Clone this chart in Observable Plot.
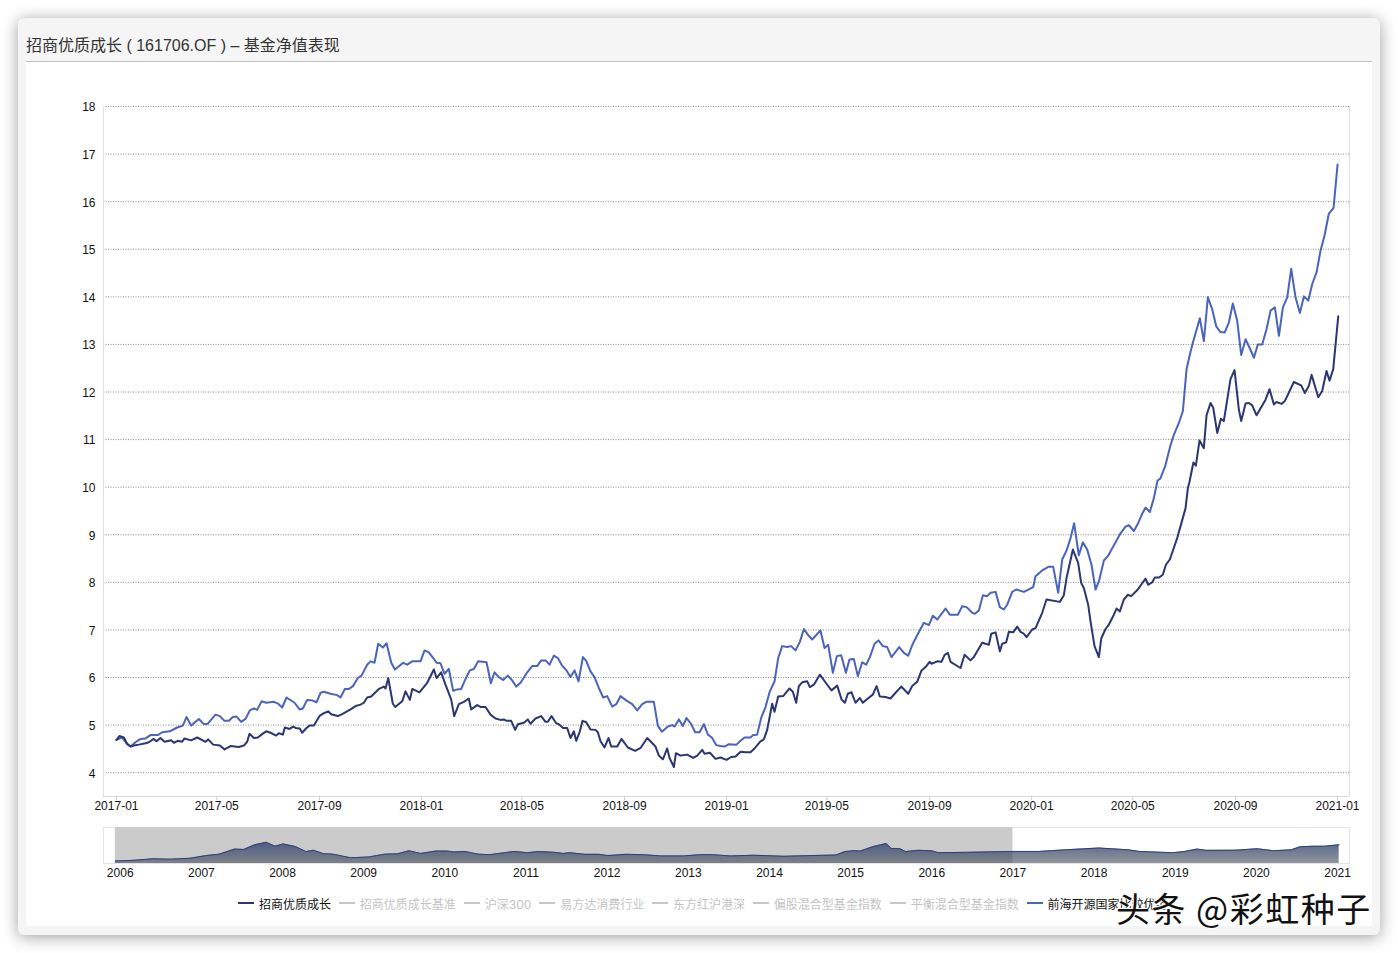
<!DOCTYPE html>
<html lang="zh">
<head>
<meta charset="utf-8">
<script src="https://cdn.jsdelivr.net/npm/d3@7"></script>
<script src="https://cdn.jsdelivr.net/npm/@observablehq/plot@0.6"></script>
<style>
html,body{margin:0;padding:0;background:#fff;width:1398px;height:953px;overflow:hidden;font-family:"Liberation Sans","Noto Sans CJK SC",sans-serif}
#card{position:absolute;left:18px;top:18px;width:1362px;height:917px;background:#f5f5f5;border-radius:6px;box-shadow:0 2px 16px rgba(0,0,0,.38)}
#inner{position:absolute;left:26px;top:62px;width:1346px;height:864px;background:#fff}
#rule{position:absolute;left:26px;top:61px;width:1346px;height:1px;background:#c4c4c4}
#title{position:absolute;left:26px;top:35px;font-size:16px;line-height:22px;color:#333;white-space:pre}
#main,#mini{position:absolute;left:0}
#main{top:0}#mini{top:820px}
#legend{position:absolute;left:238px;top:894px;height:18px;display:flex;align-items:center;font-size:12px;white-space:nowrap;font-family:"Inter","Noto Sans CJK SC",sans-serif}
.item{display:flex;align-items:center;margin-right:7.85px}
.item i{display:block;width:16px;height:2px;margin-right:5px}
#mark{position:absolute;left:1116px;top:885px;font-size:34px;line-height:46px;letter-spacing:1.5px;color:#111;white-space:nowrap;text-shadow:0 0 2px #fff,1px 1px 0 #fff,-1px -1px 0 #fff;font-family:"Noto Sans CJK SC",sans-serif}
svg text{font-family:"Liberation Sans","Noto Sans CJK SC",sans-serif}
</style>
</head>
<body>
<div id="card"></div><div id="inner"></div><div id="rule"></div>
<div id="title">招商优质成长 ( 161706.OF ) – 基金净值表现</div>
<div id="main"></div><div id="mini"></div>
<div id="legend"></div>
<div id="mark">头条 @彩虹种子</div>
<script>
const titleText = "招商优质成长 ( 161706.OF ) – 基金净值表现";
const seriesNames = ["招商优质成长","招商优质成长基准","沪深300","易方达消费行业","东方红沪港深","偏股混合型基金指数","平衡混合型基金指数","前海开源国家比较优势"];
const seriesActive = [true,false,false,false,false,false,false,true];
const navy = "#2b3672", blue = "#4a63bd";
const tickMonths = ["2017-01","2017-05","2017-09","2018-01","2018-05","2018-09","2019-01","2019-05","2019-09","2020-01","2020-05","2020-09","2021-01"];
const yTicks = [4,5,6,7,8,9,10,11,12,13,14,15,16,17,18];
const overviewTicks = [2006,2007,2008,2009,2010,2011,2012,2013,2014,2015,2016,2017,2018,2019,2020,2021];

// days since 2017-01-01
const fundDays = [0,3.6,8.8,12.8,16.8,20.8,26.8,34.8,38.7,44.7,47.9,52.7,57.5,65.5,68.7,73.4,78.6,81.4,89.4,96.6,106.6,109.7,115.7,123.7,129.3,136.5,146.4,152.4,156.4,159.2,164.4,169.2,174.3,179.2,184.3,191.1,194.3,199.1,201.5,207.1,211.5,214.3,219.4,222.2,227.4,231,236.2,243.4,248.2,253.3,256.9,264.9,270.1,280.1,286.1,292.1,296,300,304.8,314,320,322,325.2,330.7,333.5,341.9,345.9,351.1,353.9,362.6,371.8,379.8,383,388.5,393.7,400.5,404.1,409.7,415.7,421.6,424.4,431.6,436.4,441.6,447.6,453.6,459.5,463.5,466.7,472.3,477.1,480.3,487.5,492.2,495.4,501.4,508.2,513.4,516.2,520.6,526.2,529.3,534.5,539.3,543.3,547.3,550.1,554.5,557.7,562.1,567.2,573.2,576,579.2,584,588.8,592,599.2,604.3,611.9,620.7,627.1,635.1,645,649,653.8,659,661.8,667,669.4,675,682.9,690.1,694.9,700.9,703.7,710.1,716.8,722.8,730,735.6,740.8,746.8,752.7,758.7,764,770.6,774.6,778.6,784.6,787.4,791.8,797.8,805.3,809.3,813.3,816.5,820.5,826.5,829.7,834.5,841.6,849.6,855.6,862.4,867.6,871.6,875.1,879.5,884.3,889.5,893.1,898.3,905,909.5,913.4,920.2,926.2,932.2,939,947.4,952.1,958.1,963.3,968.1,972.9,975.3,982.1,987.2,990.8,994.8,998,1010,1014.8,1021.9,1025.9,1035.9,1043.9,1046.7,1051.9,1057,1059.8,1064.6,1067.8,1073,1077.8,1081.8,1085.8,1089,1095.7,1099.7,1107.7,1112.8,1128.8,1133.6,1136.8,1144.4,1150.7,1154.3,1157.5,1162.7,1165.5,1170.3,1175.5,1178.3,1183.5,1187.4,1193.4,1196.6,1200.6,1205.4,1210.2,1214.2,1222.1,1231.3,1234.5,1239.3,1242.5,1247.3,1252,1255.7,1260.4,1269.2,1279.2,1282,1284,1288.6,1291.5,1295.9,1301.1,1304.3,1309.1,1312.3,1317.1,1321.5,1325,1333,1337.8,1343,1345.8,1351,1355,1359,1364.2,1374.9,1379.7,1384.9,1388.1,1394,1398,1408.8,1417.6,1422,1426.8,1430,1438,1442.7,1447.9,1451.5,1455.9,1461.9];
const fundNav = [4.69,4.77,4.74,4.61,4.55,4.57,4.59,4.62,4.64,4.71,4.66,4.73,4.65,4.68,4.63,4.67,4.65,4.72,4.68,4.74,4.65,4.70,4.59,4.57,4.49,4.56,4.54,4.57,4.65,4.82,4.73,4.74,4.81,4.87,4.84,4.78,4.83,4.80,4.95,4.92,4.97,4.94,4.93,4.84,4.94,4.99,4.99,5.20,5.25,5.29,5.23,5.19,5.23,5.33,5.40,5.43,5.47,5.58,5.60,5.76,5.81,5.77,5.99,5.45,5.38,5.50,5.71,5.53,5.76,5.69,5.89,6.17,5.99,6.11,5.85,5.54,5.19,5.44,5.49,5.56,5.33,5.42,5.38,5.38,5.22,5.14,5.11,5.12,5.09,5.09,4.90,5.02,5.05,5.12,5.03,5.14,5.19,5.07,5.07,5.19,5.04,5.02,4.94,4.94,4.73,4.87,4.67,4.87,5.09,5.06,4.91,4.90,4.85,4.66,4.53,4.73,4.55,4.55,4.71,4.53,4.46,4.52,4.73,4.55,4.36,4.28,4.51,4.31,4.12,4.41,4.36,4.38,4.31,4.36,4.48,4.40,4.42,4.29,4.32,4.27,4.33,4.34,4.44,4.43,4.43,4.52,4.66,4.70,4.90,5.45,5.28,5.60,5.61,5.77,5.70,5.47,5.82,5.90,5.92,5.80,5.85,6.06,5.87,5.73,5.83,5.54,5.47,5.66,5.69,5.47,5.57,5.47,5.55,5.64,5.82,5.60,5.59,5.56,5.68,5.81,5.66,5.82,5.91,6.15,6.22,6.33,6.29,6.34,6.33,6.47,6.52,6.33,6.20,6.48,6.36,6.43,6.73,6.69,6.92,6.95,6.55,6.71,6.74,6.96,6.95,7.07,6.96,6.92,6.85,7.01,7.04,7.36,7.64,7.59,7.73,8.09,8.69,8.41,7.99,7.88,7.53,7.18,6.66,6.43,6.82,7.02,7.11,7.32,7.45,7.39,7.64,7.74,7.71,7.85,8.08,7.95,8.00,8.10,8.10,8.16,8.37,8.48,8.93,9.56,9.98,10.12,10.52,10.45,10.98,10.82,11.51,11.77,11.67,11.14,11.44,11.39,12.27,12.46,11.63,11.39,11.76,11.77,11.72,11.51,11.84,12.06,11.74,11.79,11.75,11.81,12.21,12.14,11.98,12.13,12.36,11.89,12.02,12.44,12.24,12.48,13.59];

const peerDays = [0,6.8,12.8,16.8,22.8,28.8,34.8,40.7,49.5,54.7,63.9,72.6,79.4,83.8,89.4,98.6,104.6,109.3,118.5,123.7,129.3,134.5,139.3,143.7,149.2,154.4,159.6,164.4,168.4,173.6,179.2,188.3,193.5,198.3,203.5,213.1,219.1,223,228.2,234.2,239.4,244.2,248.2,256.1,264.1,268.1,273.3,278.1,282.9,288.9,293.2,300,304,308.8,313.2,318.8,323.2,328.8,333.2,343.1,347.9,353.9,363.8,368.6,373.8,378.6,383,387.7,392.5,397.7,402.9,407.7,412.5,417.7,422.8,427.6,432.8,442.8,448,452.4,457.5,462.7,468.3,473.5,478.3,483.5,491.5,497.4,503.4,508.2,513.4,518.2,523.4,528.2,533.3,538.5,543.3,548.1,552.9,558.1,562.1,567.2,572,577.2,582.4,587.2,593.2,598,603.1,609.1,617.1,623.1,629.1,633.9,643,647.8,652.6,659.8,665,667.8,673,677.7,682.1,687.7,692.5,697.7,702.9,707.7,712.4,717.6,722.8,727.6,732.8,741.9,746.7,751.5,758.7,761.9,766.6,771.4,776.6,781.8,787.4,791.8,796.6,802.5,807.3,812.5,817.7,822.5,827.7,832.5,842.4,847.2,851.6,857.2,862,867.2,872.8,877.1,882.3,887.1,892.3,897.1,901.5,907.1,911.8,917,922.2,927.4,936.6,942.2,947.4,952.9,958.1,966.1,972.1,976.9,982.1,992,997.2,1006.8,1012,1017.2,1024,1027.1,1031.9,1036.7,1041.9,1045.9,1051.9,1057,1061.8,1065.8,1071.8,1076.6,1085.8,1096.9,1099.7,1107.7,1115.6,1120.8,1126.8,1131.6,1136.8,1141.6,1145.9,1151.5,1156.3,1161.5,1166.7,1171.5,1175.5,1181.5,1186.2,1201.4,1207.4,1211.4,1217.4,1222.1,1227.3,1231.3,1236.5,1241.3,1245.7,1249,1255,1261,1265.2,1271.2,1276,1280.4,1284.4,1288,1296.3,1301.1,1305.9,1311.1,1315.9,1321,1325.9,1331,1335.8,1341,1345.8,1351,1355.8,1361,1365.7,1370.9,1376.1,1380.9,1386.1,1390.9,1395.7,1400.9,1405.6,1410.8,1416,1420.8,1426,1430.8,1436,1440.7,1445.5,1450.7,1456.3,1461.1];
const peerNav = [4.69,4.74,4.60,4.55,4.64,4.71,4.72,4.79,4.79,4.85,4.87,4.95,4.99,5.17,4.99,5.13,5.02,5.03,5.22,5.19,5.09,5.09,5.17,5.18,5.07,5.13,5.31,5.35,5.32,5.50,5.47,5.49,5.45,5.37,5.58,5.47,5.33,5.35,5.53,5.52,5.48,5.68,5.70,5.66,5.63,5.58,5.76,5.76,5.82,5.99,6.04,6.27,6.34,6.31,6.71,6.63,6.72,6.31,6.17,6.31,6.27,6.34,6.34,6.57,6.53,6.42,6.31,6.30,6.08,6.18,5.72,5.75,5.76,5.97,6.15,6.18,6.34,6.32,5.88,6.11,6.01,5.95,6.04,5.94,5.81,5.89,6.11,6.24,6.24,6.36,6.36,6.27,6.46,6.41,6.25,6.15,6.01,6.15,5.92,6.43,6.35,6.13,6.01,5.78,5.58,5.61,5.39,5.44,5.61,5.53,5.44,5.31,5.44,5.49,5.49,4.99,4.86,4.97,5.00,4.97,5.12,4.98,5.15,5.02,4.85,4.85,5.02,4.80,4.74,4.58,4.56,4.55,4.60,4.59,4.67,4.74,4.74,4.79,4.80,5.15,5.38,5.71,5.92,6.41,6.66,6.64,6.66,6.57,6.75,7.02,6.89,6.80,6.99,6.62,6.69,6.10,6.45,6.47,6.10,6.38,6.39,6.03,6.32,6.27,6.43,6.71,6.78,6.66,6.64,6.43,6.64,6.52,6.46,6.71,6.89,7.15,7.10,7.30,7.22,7.45,7.32,7.32,7.50,7.48,7.36,7.34,7.41,7.73,7.71,7.78,7.80,7.48,7.43,7.53,7.80,7.85,7.80,7.90,8.13,8.25,8.33,8.33,7.78,8.48,8.67,8.93,9.24,8.57,8.84,8.69,8.37,7.85,8.02,8.46,8.55,9.03,9.17,9.20,9.08,9.23,9.44,9.57,9.48,9.77,10.14,10.18,10.45,10.87,11.10,11.35,11.60,12.48,12.79,13.04,13.55,13.07,13.99,13.74,13.38,13.26,13.25,13.46,13.86,13.50,12.78,13.11,12.93,12.72,13.00,13.00,13.32,13.71,13.78,13.18,13.78,13.99,14.59,13.99,13.66,14.01,13.92,14.27,14.52,14.97,15.29,15.75,15.87,16.78];

// overview strip: decimal year and relative height
const overviewYears = [2005.94,2006.18,2006.40,2006.62,2006.86,2007.06,2007.22,2007.41,2007.52,2007.66,2007.80,2007.91,2008.01,2008.16,2008.29,2008.38,2008.51,2008.62,2008.84,2009.06,2009.26,2009.42,2009.56,2009.70,2009.89,2010.03,2010.11,2010.25,2010.41,2010.55,2010.85,2011.02,2011.15,2011.35,2011.46,2011.54,2011.73,2011.90,2012.01,2012.23,2012.45,2012.67,2012.94,2013.14,2013.30,2013.52,2013.80,2014.18,2014.51,2014.82,2014.93,2015.04,2015.12,2015.28,2015.44,2015.50,2015.61,2015.68,2015.83,2016.0,2016.08,2016.44,2016.99,2017.32,2017.65,2018.06,2018.42,2018.56,2018.97,2019.11,2019.27,2019.38,2019.74,2020.01,2020.21,2020.43,2020.54,2020.70,2020.84,2021.02];
const overviewLevels = [.07,.09,.13,.12,.145,.22,.26,.40,.39,.52,.59,.48,.545,.47,.33,.37,.27,.26,.16,.18,.26,.27,.355,.28,.345,.345,.32,.335,.26,.245,.335,.30,.33,.31,.28,.30,.255,.255,.22,.255,.245,.21,.21,.245,.245,.21,.23,.20,.22,.235,.33,.355,.345,.47,.555,.42,.41,.33,.365,.355,.30,.31,.335,.335,.38,.43,.38,.335,.30,.33,.40,.365,.37,.41,.355,.38,.465,.48,.48,.52];
const windowYears = [2005.94, 2017];

const base = Date.UTC(2017,0,1);
const toRows = (days, nav) => days.map((d,i)=>({date:new Date(base+d*864e5), nav:nav[i]}));
const monthDate = m => new Date(m+"-01T00:00:00Z");

const main = Plot.plot({
  width:1398, height:822,
  marginLeft:103, marginRight:49, marginTop:106, marginBottom:26,
  style:{background:"transparent",fontSize:"12px",color:"#222",overflow:"visible"},
  x:{type:"utc", domain:[new Date("2016-12-16T12:00:00Z"), new Date("2021-01-15T09:00:00Z")]},
  y:{domain:[3.5,18]},
  marks:[
    Plot.gridY(yTicks,{stroke:"#8a8a8a",strokeOpacity:1,strokeDasharray:"1 1.5"}),
    Plot.ruleX([new Date("2016-12-16T12:00:00Z"), new Date("2021-01-15T09:00:00Z")],{stroke:"#e0e0e0"}),
    Plot.ruleY([3.5],{stroke:"#dcdcdc"}),
    Plot.axisY({ticks:yTicks,tickSize:0,tickPadding:8,label:null,fill:"#111",dy:1}),
    Plot.axisX({ticks:tickMonths.map(monthDate),tickFormat:d3.utcFormat("%Y-%m"),tickSize:4,tickPadding:1,stroke:"#ccc",fill:"#111",label:null}),
    Plot.line(toRows(peerDays,peerNav),{x:"date",y:"nav",stroke:blue,strokeWidth:2,curve:"linear"}),
    Plot.line(toRows(fundDays,fundNav),{x:"date",y:"nav",stroke:navy,strokeWidth:2,curve:"linear"})
  ]
});
document.getElementById("main").append(main);

const overviewRows = overviewYears.map((y,i)=>({year:y,level:overviewLevels[i]}));
const gradientDefs = () => {
  const defs = d3.create("svg:defs");
  const g = defs.append("linearGradient").attr("id","ovFill").attr("x1",0).attr("x2",0).attr("y1",0).attr("y2",1);
  g.append("stop").attr("offset","0%").attr("stop-color","#2b4578").attr("stop-opacity",.82);
  g.append("stop").attr("offset","100%").attr("stop-color","#4a4f58").attr("stop-opacity",.6);
  return defs.node();
};
const mini = Plot.plot({
  width:1398, height:70,
  marginLeft:103, marginRight:49, marginTop:7, marginBottom:27,
  style:{background:"transparent",fontSize:"12px",color:"#222",overflow:"visible"},
  x:{domain:[2005.794,2021.147]},
  y:{domain:[0,1],axis:null},
  marks:[
    gradientDefs,
    Plot.frame({stroke:"#e4e4e4"}),
    Plot.rectY([{x1:windowYears[0],x2:windowYears[1]}],{x1:"x1",x2:"x2",y1:0,y2:1,fill:"#cbcbcb"}),
    Plot.areaY(overviewRows,{x:"year",y:"level",fill:"url(#ovFill)",curve:"linear"}),
    Plot.line(overviewRows,{x:"year",y:"level",stroke:"#2f3f7f",strokeWidth:1}),
    Plot.axisX({ticks:overviewTicks,tickFormat:d=>String(d),tickSize:0,tickPadding:5,fill:"#111",label:null})
  ]
});
document.getElementById("mini").append(mini);

const legend = document.getElementById("legend");
seriesNames.forEach((name,i)=>{
  const on = seriesActive[i];
  const item = document.createElement("div");
  item.className = "item";
  const swatch = document.createElement("i");
  swatch.style.background = on ? (i===0 ? navy : blue) : "#c8c8c8";
  const label = document.createElement("span");
  label.textContent = name;
  label.style.color = on ? "#111" : "#c4c4c4";
  item.append(swatch,label);
  legend.append(item);
});
</script>
</body>
</html>
